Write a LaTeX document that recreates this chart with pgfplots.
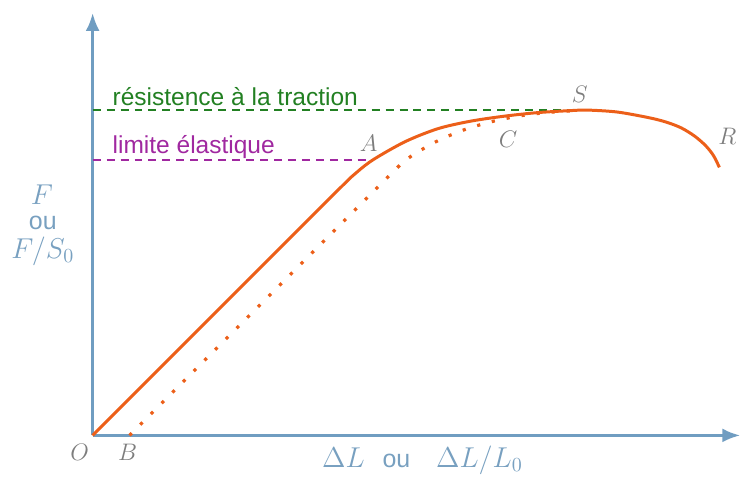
\documentclass[border=0pt]{standalone}
\usepackage[no-math]{fontspec}
\setmainfont{Liberation Sans}
\usepackage{pgfplots}
\pgfplotsset{compat=1.18}
\usetikzlibrary{arrows.meta}

\definecolor{axisblue}{RGB}{112,157,193}
\definecolor{curveorange}{RGB}{236,95,25}
\definecolor{tracgreen}{RGB}{34,128,34}
\definecolor{elaspurple}{RGB}{160,40,160}
\definecolor{labelblue}{RGB}{120,160,192}
\definecolor{ptgray}{RGB}{125,125,125}

\begin{document}
\begin{tikzpicture}
\begin{axis}[
    x=0.5pt, y=0.5pt,
    xmin=0, xmax=650, ymin=0, ymax=424,
    axis lines=left,
    axis line style={axisblue, line width=1.5pt, -{Latex[length=9pt,width=7pt]}},
    ticks=none,
    clip=false,
]
% bounding box of the whole figure
\path (axis cs:-93,-37) rectangle (axis cs:650,437);

% limit lines
\addplot[tracgreen, line width=1pt, dash pattern=on 4pt off 3pt] coordinates {(0,327) (478,327)};
\addplot[elaspurple, line width=1pt, dash pattern=on 4pt off 3pt] coordinates {(0,276) (280,276)};

% unloading / reloading path from B
\addplot[curveorange, line width=1.6pt, smooth, dash pattern=on 1.6pt off 6pt] coordinates {
    (37,0) (290,253) (305,268) (320,280.5) (347,296) (375,307.5) (405,316)
    (434,321.5) (461,324.5) (485,326)};

% stress-strain curve
\addplot[curveorange, line width=1.5pt, smooth] coordinates {
    (0,0) (130,130) (245,245) (265,264) (282,277) (314,295) (347,308)
    (380,315.5) (414,320.5) (447,324) (480,326) (497,326.5) (527,324.5)
    (560,318.5) (577,314) (591,308.5) (604,300.5) (615,291) (623,281) (629,269)};

% point labels
\node[ptgray, anchor=north] at (axis cs:-13,-2) {\large $O$};
\node[ptgray, anchor=north] at (axis cs:35,-2) {\large $B$};
\node[ptgray] at (axis cs:277,293) {\large $A$};
\node[ptgray] at (axis cs:417,297) {\large $C$};
\node[ptgray] at (axis cs:489,342) {\large $S$};
\node[ptgray] at (axis cs:637,300) {\large $R$};

\node[tracgreen, anchor=west, font=\fontsize{12.3}{14}\selectfont] at (axis cs:13,340) {résistence à la traction};
\node[elaspurple, anchor=west, font=\fontsize{12.3}{14}\selectfont] at (axis cs:13,289) {limite élastique};

% axis titles
\node[labelblue] at (axis cs:-51,242) {\Large $F$};
\node[labelblue, font=\fontsize{12.5}{14}\selectfont] at (axis cs:-50,213) {ou};
\node[labelblue] at (axis cs:-50,185) {\Large $F/S_0$};
\node[labelblue] at (axis cs:331,-25) {\Large $\Delta L$\hspace{9pt}{\fontsize{12.5}{14}\selectfont ou}\hspace{13pt}$\Delta L/L_0$};
\end{axis}
\end{tikzpicture}
\end{document}
